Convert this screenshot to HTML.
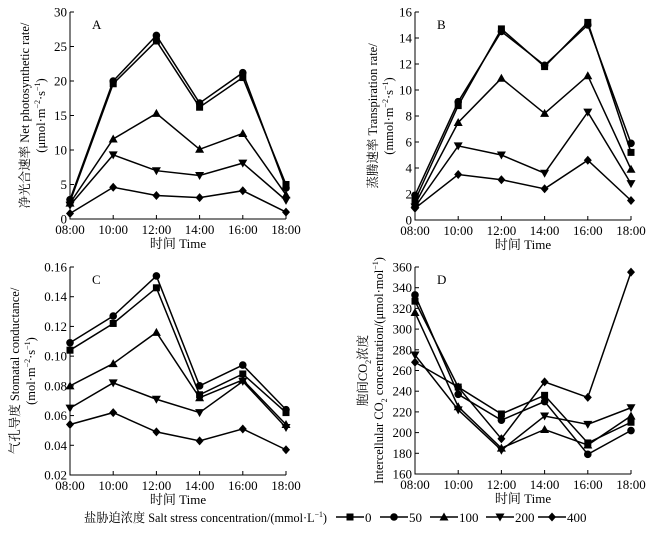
<!DOCTYPE html>
<html><head><meta charset="utf-8"><style>
html,body{margin:0;padding:0;background:#fff;}
svg{display:block;font-family:"Liberation Serif","Noto Serif CJK SC",serif;}
</style></head><body>
<svg id="fig" width="655" height="534" viewBox="0 0 655 534" xmlns="http://www.w3.org/2000/svg"></svg>
<script>
const categories = ["08:00","10:00","12:00","14:00","16:00","18:00"];
const seriesNames = ["0","50","100","200","400"];
const markers = ["square","circle","triangle","tridown","diamond"];
const aVals0 = [2.5,19.6,25.8,16.2,20.5,5.0];
const aVals50 = [2.8,20.0,26.6,16.8,21.2,4.5];
const aVals100 = [2.3,11.6,15.3,10.1,12.4,3.5];
const aVals200 = [2.0,9.3,7.0,6.3,8.1,2.7];
const aVals400 = [0.8,4.6,3.4,3.1,4.1,1.0];
const bVals0 = [1.5,8.8,14.7,11.8,15.2,5.2];
const bVals50 = [1.9,9.1,14.5,11.9,15.0,5.9];
const bVals100 = [1.2,7.5,10.9,8.2,11.1,3.9];
const bVals200 = [1.0,5.7,5.0,3.6,8.3,2.8];
const bVals400 = [0.9,3.5,3.1,2.4,4.6,1.5];
const cVals0 = [0.104,0.122,0.146,0.074,0.088,0.062];
const cVals50 = [0.109,0.127,0.154,0.080,0.094,0.064];
const cVals100 = [0.080,0.095,0.116,0.072,0.084,0.054];
const cVals200 = [0.065,0.082,0.071,0.062,0.083,0.052];
const cVals400 = [0.054,0.062,0.049,0.043,0.051,0.037];
const dVals0 = [327,244,218,236,190,210];
const dVals50 = [333,237,212,230,179,202];
const dVals100 = [316,225,185,203,188,216];
const dVals200 = [275,222,183,216,208,224];
const dVals400 = [268,244,194,249,234,355];
const aTicks = ["0","5","10","15","20","25","30"];
const bTicks = ["0","2","4","6","8","10","12","14","16"];
const cTicks = ["0.02","0.04","0.06","0.08","0.10","0.12","0.14","0.16"];
const dTicks = ["160","180","200","220","240","260","280","300","320","340","360"];

const NS="http://www.w3.org/2000/svg";
const svg=document.getElementById('fig');
function mk(tag,attrs,parent){const e=document.createElementNS(NS,tag);for(const k in attrs)e.setAttribute(k,attrs[k]);(parent||svg).appendChild(e);return e;}
function marker(g,type,x,y){
  let e;
  if(type==="square") e=mk('rect',{x:x-3.5,y:y-3.5,width:7,height:7,fill:'#000'},g);
  else if(type==="circle") e=mk('circle',{cx:x,cy:y,r:3.8,fill:'#000'},g);
  else if(type==="triangle") e=mk('polygon',{points:`${x},${y-4.5} ${x+4.5},${y+3.5} ${x-4.5},${y+3.5}`,fill:'#000'},g);
  else if(type==="tridown") e=mk('polygon',{points:`${x},${y+4.5} ${x+4.5},${y-3.5} ${x-4.5},${y-3.5}`,fill:'#000'},g);
  else e=mk('polygon',{points:`${x},${y-4.5} ${x+4},${y} ${x},${y+4.5} ${x-4},${y}`,fill:'#000'},g);
  return e;
}
function panel(id,letter,x0,x1,yTop,yBot,ticks,series,titles,titleX){
  const g=mk('g',{});
  
  
  const tmin=parseFloat(ticks[0]),tmax=parseFloat(ticks[ticks.length-1]);
  const ys=v=>yBot-(v-tmin)/(tmax-tmin)*(yBot-yTop);
  const xs=i=>x0+i*(x1-x0)/(categories.length-1);
  const ax=mk('path',{d:`M${x0},${yTop}V${yBot}H${x1}`,stroke:'#000','stroke-width':1,fill:'none'},g);
  
  
  ticks.forEach(t=>{
    const y=ys(parseFloat(t));
    mk('line',{x1:x0,x2:x0+4,y1:y,y2:y,stroke:'#000'},g);
    const tx=mk('text',{x:x0-3,y:y+4.5,'text-anchor':'end','font-size':13},g);
    tx.textContent=t;
    
    
  });
  categories.forEach((c,i)=>{
    const x=xs(i);
    mk('line',{x1:x,x2:x,y1:yBot,y2:yBot-4,stroke:'#000'},g);
    const tx=mk('text',{x:x,y:yBot+15,'text-anchor':'middle','font-size':13},g);
    tx.textContent=c;
    
    
  });
  const xt=mk('text',{x:(x0+x1)/2,y:yBot+29,'text-anchor':'middle','font-size':13},g);
  xt.textContent='时间 Time';
  
  
  const lt=mk('text',{x:x0+22,y:yTop+17,'font-size':13},g);
  lt.textContent=letter;
  
  
  const cy=(yTop+yBot)/2;
  titles.forEach((t,k)=>{
    const tx=mk('text',{x:0,y:0,'text-anchor':'middle','font-size':12.5,transform:`translate(${titleX[k]},${cy}) rotate(-90)`},g);
    tx.innerHTML=t;
    
    
  });
  series.forEach((vals,si)=>{
    const sg=mk('g',{},g);
    
    
    const pl=mk('polyline',{points:vals.map((v,i)=>xs(i)+','+ys(v)).join(' '),fill:'none',stroke:'#000','stroke-width':1.5},sg);
    
    
    vals.forEach((v,i)=>{
      const m=marker(sg,markers[si],xs(i),ys(v));
      
      
    });
  });
}
const unitTail='<tspan font-size="8" dy="-5">−2</tspan><tspan dy="5">·s</tspan><tspan font-size="8" dy="-5">−1</tspan><tspan dy="5">)</tspan>';
panel('a','A',70,286,12,219,aTicks,[aVals0,aVals50,aVals100,aVals200,aVals400],
 ['净光合速率 Net photosynthetic rate/','(μmol·m'+unitTail],[29,45]);
panel('b','B',415,631,12,220,bTicks,[bVals0,bVals50,bVals100,bVals200,bVals400],
 ['蒸腾速率 Transpiration rate/','(mmol·m'+unitTail],[377,393]);
panel('c','C',70,286,267,475,cTicks,[cVals0,cVals50,cVals100,cVals200,cVals400],
 ['气孔导度 Stomatal conductance/','(mol·m'+unitTail],[19,35]);
panel('d','D',415,631,267,474,dTicks,[dVals0,dVals50,dVals100,dVals200,dVals400],
 ['胞间CO<tspan font-size="8" dy="4">2</tspan><tspan dy="-4">浓度</tspan>','Intercellular CO<tspan font-size="8" dy="4">2</tspan><tspan dy="-4"> concentration/(μmol·mol</tspan><tspan font-size="8" dy="-5">−1</tspan><tspan dy="5">)</tspan>'],[367,383]);

// legend
const lg=mk('g',{});


const ltitle=mk('text',{x:84,y:522,'font-size':12.5,textLength:243,lengthAdjust:'spacingAndGlyphs'},lg);
ltitle.innerHTML='盐胁迫浓度 Salt stress concentration/(mmol·L<tspan font-size="8" dy="-5">−1</tspan><tspan dy="5">)</tspan>';


const legX=[336,380,430,486,538];
seriesNames.forEach((n,i)=>{
  const eg=mk('g',{},lg);
  
  
  const lx=legX[i];
  mk('line',{x1:lx,x2:lx+28,y1:517,y2:517,stroke:'#000','stroke-width':1.5},eg);
  marker(eg,markers[i],lx+14,517);
  const t=mk('text',{x:lx+29,y:522,'font-size':13},eg);
  t.textContent=n;
});
</script>
</body></html>
